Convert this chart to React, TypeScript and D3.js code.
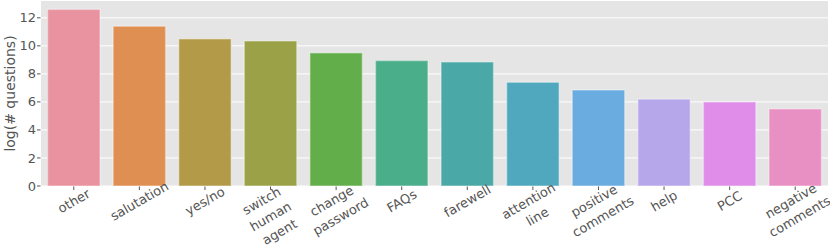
import { useEffect, useRef } from 'react';
import * as d3 from 'd3';

// categories (multi-line labels split by \n)
const categories = [
  'other', 'salutation', 'yes/no', 'switch\nhuman\nagent', 'change\npassword', 'FAQs',
  'farewell', 'attention\nline', 'positive\ncomments', 'help', 'PCC', 'negative\ncomments',
];
const values = [12.6, 11.4, 10.5, 10.35, 9.5, 8.95, 8.85, 7.4, 6.85, 6.2, 6.0, 5.5];
const colors = [
  '#e8939f', '#e08f53', '#b39a48', '#9aa147', '#62ae4a', '#4aae8a',
  '#4aa8a6', '#4fa8bd', '#6aace0', '#b6a7ea', '#df8de8', '#e88fc4',
];
const yTicks = [0, 2, 4, 6, 8, 10, 12];

const W = 830;
const H = 246;

const App = () => {
  const svgRef = useRef<SVGSVGElement>(null);

  useEffect(() => {
    document.body.style.margin = '0';
    const svg = d3.select(svgRef.current);
    svg.selectAll('*').remove();

    const left = 41, right = 828, top = 1, bottom = 186;
    const x = d3.scaleBand().domain(categories).range([left, right]).paddingInner(0.2).paddingOuter(0.1);
    const y = d3.scaleLinear().domain([0, 13.2]).range([bottom, top]);

    // background
    svg.append('rect')
      .attr('x', left).attr('y', top)
      .attr('width', right - left).attr('height', bottom - top)
      .attr('fill', '#e5e5e5');

    // grid
    svg.selectAll('.grid')
      .data(yTicks)
      .enter()
      .append('line')
      .attr('x1', left).attr('x2', right)
      .attr('y1', d => y(d)).attr('y2', d => y(d))
      .attr('stroke', '#ffffff')
      .attr('stroke-width', 1);

    // bars
    svg.selectAll('.bar')
      .data(values)
      .enter()
      .append('rect')
      .attr('x', (d, i) => x(categories[i])!)
      .attr('y', d => y(d))
      .attr('width', x.bandwidth())
      .attr('height', d => y(0) - y(d))
      .attr('fill', (d, i) => colors[i])
      .attr('stroke', '#ffffff')
      .attr('stroke-opacity', 0.35)
      .attr('stroke-width', 1.5);

    const font = 'DejaVu Sans, sans-serif';
    const grey = '#555555';

    // y ticks
    const yt = svg.selectAll('.ytick').data(yTicks).enter().append('g');
    yt.append('line')
      .attr('x1', left - 4).attr('x2', left - 0.5)
      .attr('y1', d => y(d)).attr('y2', d => y(d))
      .attr('stroke', grey).attr('stroke-width', 1);
    yt.append('text')
      .attr('x', left - 5)
      .attr('y', d => y(d))
      .attr('dy', '0.35em')
      .attr('text-anchor', 'end')
      .style('font-family', font)
      .style('font-size', '13px')
      .style('fill', grey)
      .text(d => d);

    // y label
    svg.append('text')
      .attr('transform', `translate(15,${(top + bottom) / 2}) rotate(-90)`)
      .attr('text-anchor', 'middle')
      .style('font-family', font)
      .style('font-size', '14px')
      .style('fill', grey)
      .text('log(# questions)');

    // x ticks and rotated labels
    const angle = 30;
    const lineH = 18;
    categories.forEach(c => {
      const cx = x(c)! + x.bandwidth() / 2;
      svg.append('line')
        .attr('x1', cx).attr('x2', cx)
        .attr('y1', bottom + 0.5).attr('y2', bottom + 4)
        .attr('stroke', grey).attr('stroke-width', 1);

      const lines = c.split('\n');
      const g = svg.append('g')
        .attr('transform', `translate(${cx},${193.3 + 7.7 * lines.length}) rotate(${-angle})`);
      lines.forEach((ln, i) => {
        g.append('text')
          .attr('x', 0)
          .attr('y', (i - (lines.length - 1) / 2) * lineH)
          .attr('dy', '0.35em')
          .attr('text-anchor', 'middle')
          .style('font-family', font)
          .style('font-size', '13px')
          .style('fill', grey)
          .text(ln);
      });
    });
  }, []);

  return <svg ref={svgRef} width={W} height={H} style={{ display: 'block' }} />;
};

export default App;
